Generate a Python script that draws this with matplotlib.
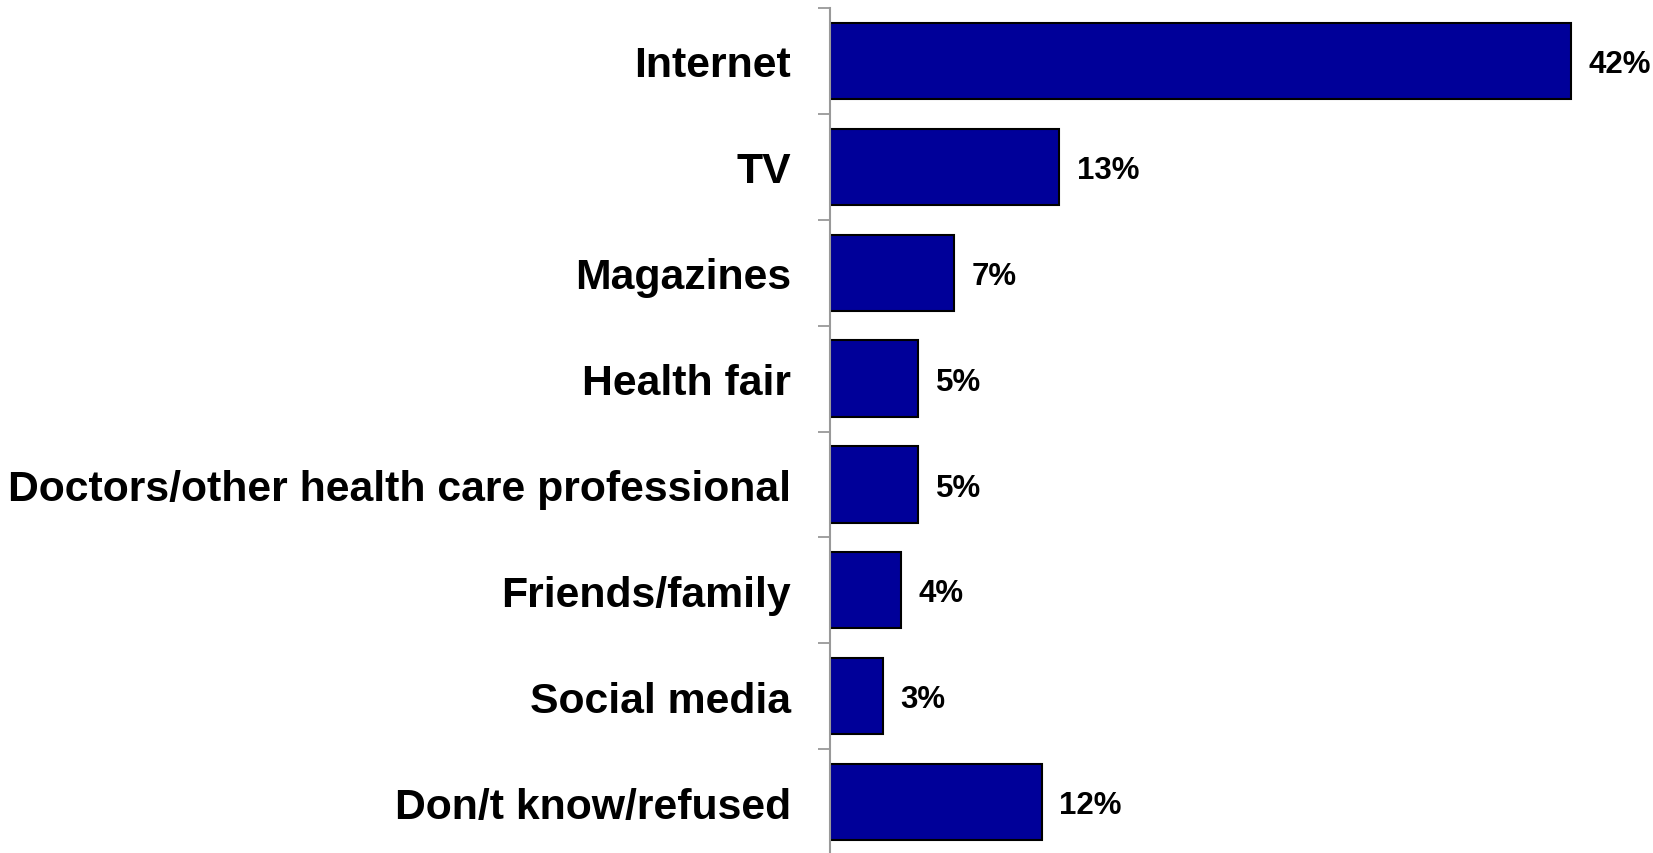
import matplotlib
matplotlib.use("Agg")
import matplotlib.pyplot as plt
import numpy as np

categories = ["Internet", "TV", "Magazines", "Health fair",
              "Doctors/other health care professional", "Friends/family",
              "Social media", "Don/t know/refused"]
values = [42, 13, 7, 5, 5, 4, 3, 12]

plt.rcParams['font.family'] = ['Liberation Sans', 'DejaVu Sans']

fig = plt.figure(figsize=(16.53, 8.54), dpi=100)
ax = fig.add_axes([830 / 1653, -2 / 854, 1 - 830 / 1653, 847 / 854])

y = np.arange(len(categories))
ax.barh(y, values, height=0.72, color='#000099', edgecolor='black', linewidth=1.5)

# value labels just past the end of each bar
for yi, v in zip(y, values):
    ax.text(v + 1.0, yi + 0.03, f"{v}%", va='center', ha='left',
            fontsize=22.5, fontweight='bold')

ax.set_ylim(len(categories) - 0.5, -0.5)
ax.set_xlim(0, 42 * (1653 - 830) / 741)

ax.set_yticks(y)
ax.set_yticklabels(categories, fontsize=30.8, fontweight='bold')
ax.tick_params(axis='y', which='major', length=0, pad=28)
ax.set_yticks(np.arange(-0.5, len(categories), 1), minor=True)
ax.tick_params(axis='y', which='minor', length=9, width=1.3, color='#999999')

ax.set_xticks([])
for side in ['top', 'right', 'bottom']:
    ax.spines[side].set_visible(False)
ax.spines['left'].set_color('#999999')
ax.spines['left'].set_linewidth(1.5)

fig.savefig('out.png', dpi=100)
